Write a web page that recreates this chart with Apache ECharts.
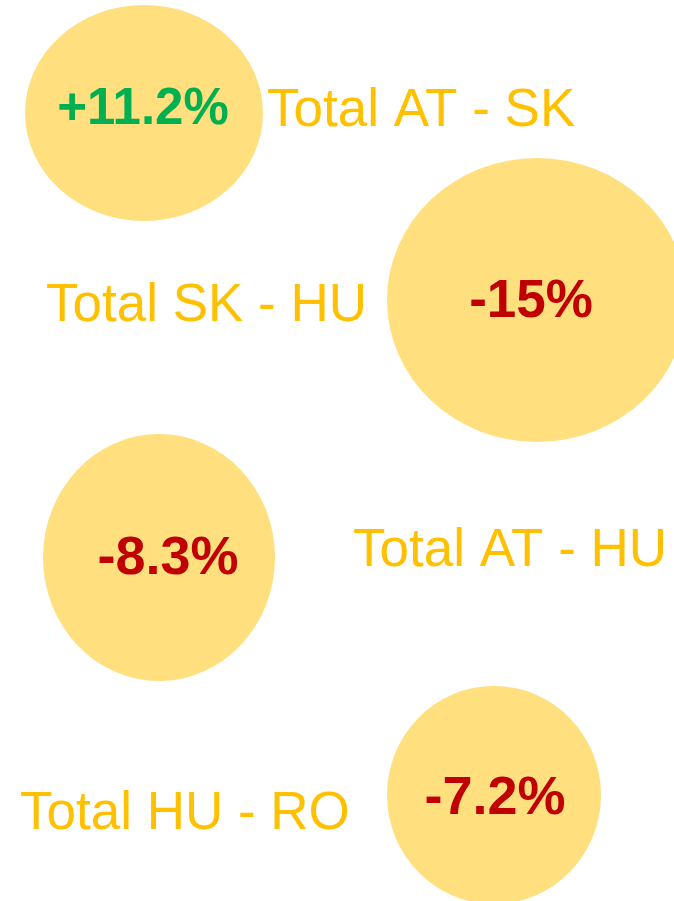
<!DOCTYPE html>
<html>
<head>
<meta charset="utf-8">
<script src="https://cdn.jsdelivr.net/npm/echarts@6/dist/echarts.min.js"></script>
<style>
html,body{margin:0;padding:0;background:#fff;}
#chart{width:674px;height:901px;}
</style>
</head>
<body>
<div id="chart"></div>
<script>
// Data
const pairs = ['Total AT - SK', 'Total SK - HU', 'Total AT - HU', 'Total HU - RO'];
const changes = ['+11.2%', '-15%', '-8.3%', '-7.2%'];
const changeValues = [11.2, -15, -8.3, -7.2];

// Layout (pixel-space coordinates on a 674 x 901 value grid)
const bubbleX = [144, 537, 159, 494];
const bubbleY = [113, 300, 557.5, 795];
const bubbleW = [238, 300, 232, 214];
const bubbleH = [216, 284, 247, 218];
const changeX = [143, 531, 168, 495];
const changeY = [110, 302, 559, 799];
const changeSize = [51, 53, 54, 54];
const pairX = [267, 46, 353, 20];
const pairY = [111, 306, 551, 814];

const FONT = "'Liberation Sans', Arial, Helvetica, sans-serif";

const chart = echarts.init(document.getElementById('chart'), null, {renderer: 'canvas'});

const bubbles = bubbleX.map((x, i) => ({
  value: [x, bubbleY[i], changeValues[i]],
  symbolSize: [bubbleW[i], bubbleH[i]]
}));
const changeLabels = changeX.map((x, i) => ({
  value: [x, changeY[i], changeValues[i]],
  label: {
    formatter: changes[i],
    fontSize: changeSize[i],
    color: changeValues[i] >= 0 ? '#00B050' : '#C00000'
  }
}));
const pairLabels = pairX.map((x, i) => ({
  value: [x, pairY[i]],
  label: {formatter: pairs[i]}
}));

chart.setOption({
  animation: false,
  backgroundColor: '#ffffff',
  grid: {left: 0, right: 0, top: 0, bottom: 0},
  xAxis: {type: 'value', min: 0, max: 674, show: false},
  yAxis: {type: 'value', min: 0, max: 901, inverse: true, show: false},
  series: [
    {
      type: 'scatter',
      symbol: 'circle',
      data: bubbles,
      itemStyle: {color: '#FFDF7E', opacity: 1},
      silent: true
    },
    {
      type: 'scatter',
      symbolSize: 0,
      data: changeLabels,
      silent: true,
      itemStyle: {opacity: 1},
      label: {
        show: true,
        position: 'inside',
        align: 'center',
        verticalAlign: 'middle',
        fontFamily: FONT,
        fontWeight: 'bold',
        fontSize: 52
      }
    },
    {
      type: 'scatter',
      symbolSize: 0,
      data: pairLabels,
      silent: true,
      itemStyle: {opacity: 1},
      label: {
        show: true,
        position: 'inside',
        align: 'left',
        verticalAlign: 'middle',
        fontFamily: FONT,
        fontSize: 53,
        color: '#FFC000'
      }
    }
  ]
});
</script>
</body>
</html>
